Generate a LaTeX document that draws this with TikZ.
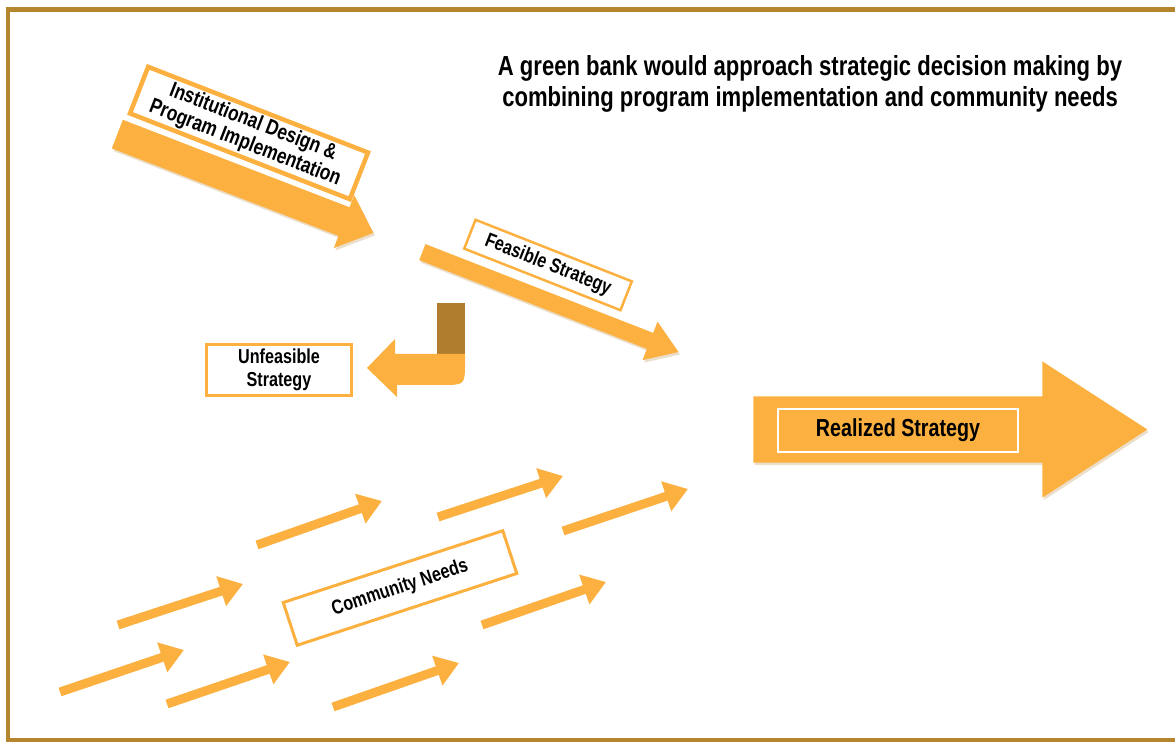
\documentclass[tikz,border=0pt]{standalone}
\usepackage{fontspec}
\setmainfont{Liberation Sans}[FakeStretch=0.8]
\usetikzlibrary{shapes.arrows,arrows.meta,shadows}
\definecolor{gbOrange}{HTML}{FBB040}
\definecolor{gbBrown}{HTML}{B07D2E}
\definecolor{gbFrame}{HTML}{B5862E}
\tikzset{
  bigarrow/.style={single arrow, fill=gbOrange, draw=none, inner xsep=0pt, single arrow head indent=0pt,
    drop shadow={shadow xshift=0.03cm, shadow yshift=-0.05cm, fill=gbBrown, opacity=0.25}},
  labelbox/.style={draw=gbOrange, fill=white, line width=0.06cm, align=center, inner sep=0pt, font=\bfseries\fontsize{11.5}{13}\selectfont},
  needarrow/.style={draw=gbOrange, line width=0.18cm, -{Triangle[length=0.46cm, width=0.6cm]}}
}
\begin{document}
\begin{tikzpicture}[x=0.02cm, y=-0.02cm]
	\useasboundingbox (0,0) rectangle (1175,742);

	% frame, open on the right side
	\draw[gbFrame, line width=0.1cm] (1175,9.5) -- (8,9.5) -- (8,740) -- (1175,740);

	\node[font=\bfseries\fontsize{15.7}{17.8}\selectfont, align=center] (title) at (810,84) {A green bank would approach strategic decision making by\\combining program implementation and community needs};

	% institutional design
	\node[bigarrow, rotate=-21.1, anchor=tail, minimum height=5.49cm, inner ysep=0.3cm, single arrow head extend=0.26cm, single arrow tip angle=84] (design) at (117,134) {};
	\node[labelbox, rotate=-21.3, minimum width=4.72cm, minimum height=1.0cm, line width=0.09cm, font=\bfseries\fontsize{12.3}{12.8}\selectfont] (designlabel) at (249,133) {Institutional Design \&\\Program Implementation};

	% feasible strategy
	\node[bigarrow, rotate=-21.3, anchor=tail, minimum height=5.5cm, inner ysep=0.165cm, single arrow head extend=0.24cm, single arrow tip angle=68] (feasible) at (422,252) {};
	\node[labelbox, rotate=-21.5, minimum width=3.36cm, minimum height=0.62cm, line width=0.05cm] (feasiblelabel) at (548,265) {Feasible Strategy};

	% bent arrow towards the unfeasible strategy
	\fill[gbBrown] (437,303) rectangle (465,355);
	\fill[gbOrange] (465,354) -- (465,362) .. controls (465,385) .. (442,385) -- (397,385) -- (397,397) -- (367,368) -- (395,339) -- (395,354) -- cycle;
	\node[labelbox, minimum width=2.9cm, minimum height=1.04cm] (unfeasible) at (279,370) {Unfeasible\\Strategy};

	% realized strategy
	\node[bigarrow, anchor=tail, minimum height=7.88cm, inner ysep=0.655cm, single arrow head extend=0.7cm, single arrow tip angle=66] (realized) at (753,429.5) {};
	\node[draw=white, line width=0.04cm, minimum width=4.8cm, minimum height=0.86cm, inner sep=0pt, font=\bfseries\fontsize{14}{16}\selectfont] (realizedlabel) at (898,430.5) {Realized Strategy};

	% community needs
	\foreach \i/\tx/\ty/\hx/\hy in {1/60/692/184/650, 2/118/625/243/584, 3/167/704/290/662, 4/257/545/382/501, 5/333/707/459/663, 6/438/517/563/476, 7/482/625/606/582, 8/563/531/688/489} {
		\coordinate (tail\i) at (\tx,\ty);
		\coordinate (head\i) at (\hx,\hy);
		\draw[needarrow] (tail\i) -- (head\i);
	}
	\node[labelbox, rotate=18.1, minimum width=4.62cm, minimum height=0.9cm] (needs) at (400,588) {Community Needs};
\end{tikzpicture}
\end{document}
